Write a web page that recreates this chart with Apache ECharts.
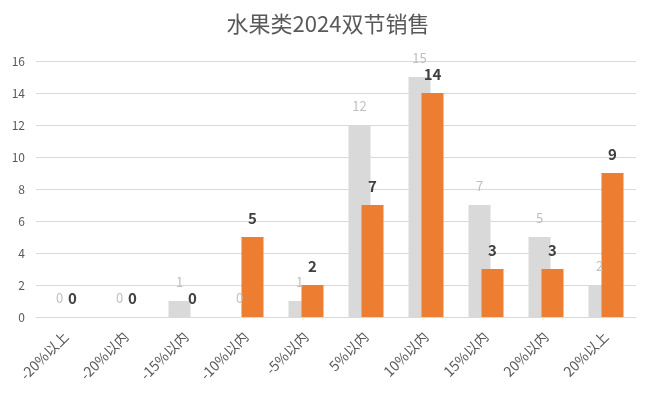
<!DOCTYPE html>
<html>
<head>
<meta charset="utf-8">
<script src="https://cdn.jsdelivr.net/npm/echarts@6/dist/echarts.min.js"></script>
<style>
  html, body { margin: 0; padding: 0; background: #fff; }
  #chart { width: 656px; height: 398px; }
</style>
</head>
<body>
<div id="chart"></div>
<script>
const categories = ['-20%以上', '-20%以内', '-15%以内', '-10%以内', '-5%以内', '5%以内', '10%以内', '15%以内', '20%以内', '20%以上'];
const grayValues = [0, 0, 1, 0, 1, 12, 15, 7, 5, 2];
const orangeValues = [0, 0, 0, 5, 2, 7, 14, 3, 3, 9];
const yTicks = [0, 16, 2]; // min, max, interval

const chart = echarts.init(document.getElementById('chart'));
const font = '"Noto Sans CJK SC", "Noto Sans", sans-serif';

chart.setOption({
    animation: false,
    textStyle: { fontFamily: font },
    title: {
        text: '水果类2024双节销售',
        left: 'center',
        top: 8,
        textStyle: { fontSize: 22, fontWeight: 'normal', color: '#595959', fontFamily: font }
    },
    grid: { left: 36, right: 20, top: 61, bottom: 81 },
    xAxis: {
        type: 'category',
        data: categories,
        axisLine: { lineStyle: { color: '#d9d9d9' } },
        axisTick: { show: false },
        axisLabel: { rotate: 45, color: '#595959', fontSize: 14, margin: 17 }
    },
    yAxis: {
        type: 'value',
        min: yTicks[0],
        max: yTicks[1],
        interval: yTicks[2],
        axisLine: { show: false },
        axisTick: { show: false },
        splitLine: { lineStyle: { color: '#d9d9d9' } },
        axisLabel: { color: '#595959', fontSize: 12, margin: 11 }
    },
    series: [
        {
            type: 'bar',
            data: grayValues,
            barWidth: 22,
            barGap: '-41%',
            itemStyle: { color: '#d9d9d9' },
            label: { show: true, position: 'top', distance: 12, color: '#bfbfbf', fontSize: 13 }
        },
        {
            type: 'bar',
            data: orangeValues,
            barWidth: 22,
            itemStyle: { color: '#ed7d31' },
            label: { show: true, position: 'top', distance: 11, color: '#404040', fontSize: 15, fontWeight: 'bold' }
        }
    ]
});
</script>
</body>
</html>
